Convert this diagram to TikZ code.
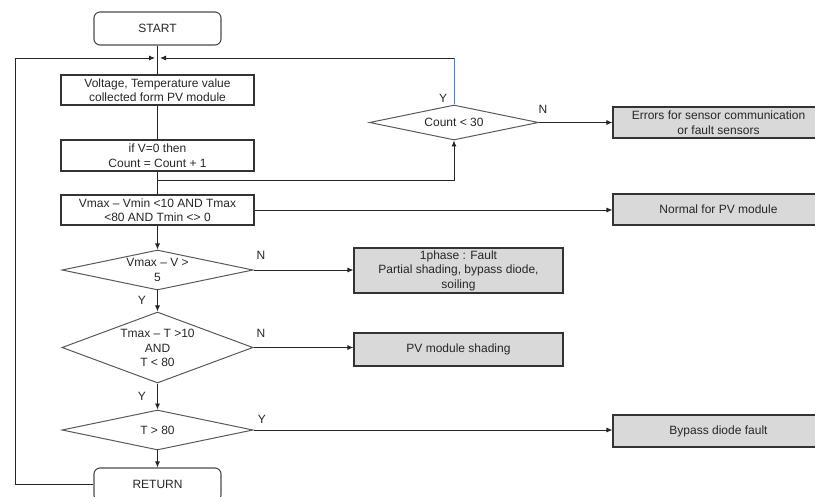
\documentclass[tikz,border=0pt]{standalone}
\usepackage{fontspec}
\setmainfont{Liberation Sans}
\usetikzlibrary{arrows.meta,shapes.geometric}
\definecolor{resgray}{HTML}{D9D9D9}
\definecolor{txtc}{HTML}{262626}
\definecolor{bluel}{HTML}{5B7BB0}
\begin{document}
\begin{tikzpicture}[x=1pt,y=-1pt,
  every node/.style={text=txtc, font=\fontsize{12}{14.5}\selectfont},
  box/.style={draw=black!80, line width=1.1pt, minimum width=193pt, minimum height=30pt, inner sep=0pt, align=center},
  term/.style={box, rounded corners=6pt, minimum width=127pt, minimum height=33pt, draw=black!70},
  res/.style={box, fill=resgray, minimum width=211pt, minimum height=31pt},
  dia/.style={draw=black!65, line width=1pt, diamond, inner sep=0pt, minimum width=191pt},
  txt/.style={inner sep=0pt, align=center},
  lab/.style={inner sep=0pt},
  line/.style={draw=black!85, line width=0.9pt},
  arr/.style={line, -{Latex[length=6pt,width=5pt]}}
]
\useasboundingbox (0,0) rectangle (815,497);
\clip (0,0) rectangle (815,497);

% main column
\node[term] (start) at (157.5,28.5) {START};
\node[box] (b1) at (157.5,90) {Voltage, Temperature value\\collected form PV module};
\node[box, minimum height=31pt] (b2) at (157.5,155.5) {if V=0 then\\Count = Count + 1};
\node[box] (b3) at (157.5,210) {Vmax – Vmin <10 AND Tmax\\<80 AND Tmin <> 0};

\node[dia, minimum height=40pt] (d2) at (157.5,270) {};
\node[txt] (d2t) at (157.5,270) {Vmax – V >\\5};
\node[dia, minimum height=71pt] (d3) at (157.5,347.5) {};
\node[txt] (d3t) at (157.5,348) {Tmax – T >10\\AND\\T < 80};
\node[dia, minimum height=40pt] (d4) at (157.5,430) {};
\node[txt] (d4t) at (157.5,430) {T > 80};
\node[term] (ret) at (157.5,484.5) {RETURN};

% count diamond
\node[dia, minimum width=169pt, minimum height=35pt] (cnt) at (454,122.5) {};
\node[txt] (cntt) at (454,122.5) {Count < 30};

% result boxes
\node[res] (err) at (718.5,122.5) {Errors for sensor communication\\or fault sensors};
\node[res] (nor) at (718.5,209.5) {Normal for PV module};
\node[res, minimum width=209pt, minimum height=45pt] (pha) at (458.5,270.5) {1phase : Fault\\Partial shading, bypass diode,\\soiling};
\node[res, minimum width=209pt, minimum height=33pt] (sha) at (458.5,349.5) {PV module shading};
\node[res, minimum height=32pt] (byp) at (718.5,431) {Bypass diode fault};

% coordinates
\coordinate (lc) at (15,58);
\coordinate (mL) at (155,58);
\coordinate (mR) at (160,58);
\coordinate (cc) at (454,58);
\coordinate (br) at (157.5,180);

% connectors
\draw[line] (start) -- (b1);
\draw[line] (b1) -- (b2);
\draw[line] (b2) -- (b3);
\draw[arr] (ret.west) -| (lc) -- (mL);
\draw[line, draw=bluel] (cnt.north) -- (cc);
\draw[arr] (cc) -- (mR);
\draw[arr] (br) -| (cnt.south);
\draw[arr] (cnt.east) -- (err.west);
\draw[arr] (b3.east) -- (b3.east -| nor.west);
\draw[arr] (b3) -- (d2);
\draw[arr] (d2.east) -- (d2.east -| pha.west);
\draw[arr] (d2) -- (d3);
\draw[arr] (d3.east) -- (d3.east -| sha.west);
\draw[arr] (d3) -- (d4);
\draw[arr] (d4.east) -- (d4.east -| byp.west);
\draw[arr] (d4) -- (ret);

% labels
\node[lab] (ly1) at (443,98) {Y};
\node[lab] (ln1) at (543,109) {N};
\node[lab] (ln2) at (261,255) {N};
\node[lab] (ly2) at (142,300) {Y};
\node[lab] (ln3) at (261,333) {N};
\node[lab] (ly3) at (142,396) {Y};
\node[lab] (ly4) at (262,419) {Y};
\end{tikzpicture}
\end{document}
